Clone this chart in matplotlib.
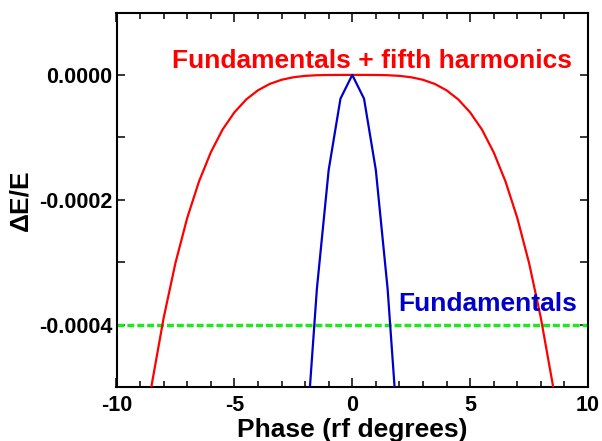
import matplotlib
matplotlib.use("Agg")
import matplotlib.pyplot as plt
from matplotlib.ticker import MultipleLocator, FormatStrFormatter

plt.rcParams['font.family'] = ['Liberation Sans', 'DejaVu Sans']
plt.rcParams['font.weight'] = 'bold'
plt.rcParams['axes.unicode_minus'] = False

# phase grid (rf degrees)
phase = [-10, -9.5, -9, -8.5, -8, -7.5, -7, -6.5, -6, -5.5, -5, -4.5, -4, -3.5,
         -3, -2.5, -2, -1.5, -1, -0.5, 0, 0.5, 1, 1.5, 2, 2.5, 3, 3.5, 4, 4.5,
         5, 5.5, 6, 6.5, 7, 7.5, 8, 8.5, 9, 9.5, 10]

# Fundamentals + fifth harmonics (dE/E)
de_fifth = [-9.41e-4, -7.69e-4, -6.21e-4, -4.9505e-4, -3.893e-4, -3.0133e-4,
            -2.2909e-4, -1.7062e-4, -1.2408e-4, -0.8745e-4, -0.6001e-4,
            -0.3942e-4, -0.2464e-4, -0.1446e-4, -0.0781e-4, -0.0377e-4,
            -0.0154e-4, -0.0049e-4, -0.0010e-4, -0.0001e-4, 0.0,
            -0.0001e-4, -0.0010e-4, -0.0049e-4, -0.0154e-4, -0.0377e-4,
            -0.0781e-4, -0.1446e-4, -0.2464e-4, -0.3942e-4, -0.6001e-4,
            -0.8745e-4, -1.2408e-4, -1.7062e-4, -2.2909e-4, -3.0133e-4,
            -3.893e-4, -4.9505e-4, -6.21e-4, -7.69e-4, -9.41e-4]

# Fundamentals only (dE/E)
phase_fund = [-3, -2.5, -2, -1.5, -1, -0.5, 0, 0.5, 1, 1.5, 2, 2.5, 3]
de_fund = [-13.705e-4, -9.5178e-4, -6.0917e-4, -3.4267e-4, -1.5230e-4,
           -0.3808e-4, 0.0, -0.3808e-4, -1.5230e-4, -3.4267e-4, -6.0917e-4,
           -9.5178e-4, -13.705e-4]

# acceptance level
accept_level = -0.0004

fig = plt.figure(figsize=(6.02, 4.41), dpi=100)
ax = fig.add_axes([116.5/602, 1-387/441, (588-116.5)/602, (387-12.5)/441])

ax.axhline(accept_level, color='#22e622', lw=2.5, dashes=(2.0, 0.85), zorder=2)
ax.plot(phase, de_fifth, color='#ff0000', lw=1.6, zorder=3)
ax.plot(phase_fund, de_fund, color='#0000cc', lw=1.6, zorder=3)

ax.set_xlim(-10, 10)
ax.set_ylim(-0.0005, 0.0001)

ax.xaxis.set_major_locator(MultipleLocator(5))
ax.xaxis.set_minor_locator(MultipleLocator(1))
ax.yaxis.set_major_locator(MultipleLocator(0.0002))
ax.yaxis.set_minor_locator(MultipleLocator(0.0001))
ax.yaxis.set_major_formatter(FormatStrFormatter('%.4f'))
ax.xaxis.set_major_formatter(FormatStrFormatter('%d'))

ax.tick_params(axis='both', which='both', direction='in', top=True, right=True,
               width=1.1, labelsize=15.5)
ax.tick_params(axis='x', which='major', length=6.5, pad=5.5)
ax.tick_params(axis='x', which='minor', length=4)
ax.tick_params(axis='y', which='major', length=6, pad=3)
ax.tick_params(axis='y', which='minor', length=6)
for lab in ax.get_xticklabels() + ax.get_yticklabels():
    lab.set_fontweight('bold')
for s in ax.spines.values():
    s.set_linewidth(1.5)

ax.set_xlabel('Phase (rf degrees)', fontsize=19, fontweight='bold', labelpad=1.5)
ax.set_ylabel('ΔE/E', fontsize=19, fontweight='bold', labelpad=5)

ax.text(0.85, 0.104e-4, 'Fundamentals + fifth harmonics', color='#ff0000',
        fontsize=19, fontweight='bold', ha='center', va='baseline')
ax.text(1.96, -3.787e-4, 'Fundamentals', color='#0000cc',
        fontsize=19, fontweight='bold', ha='left', va='baseline')

fig.savefig('out.png', dpi=100)
